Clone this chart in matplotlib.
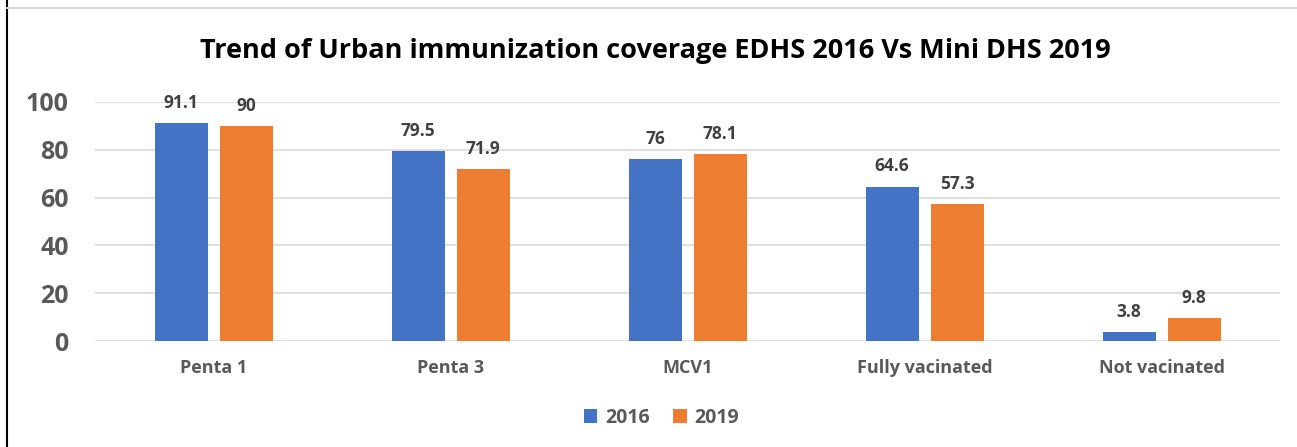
import matplotlib.pyplot as plt
import numpy as np
from matplotlib.lines import Line2D

categories = ["Penta 1", "Penta 3", "MCV1", "Fully vacinated", "Not vacinated"]
vals_2016 = [91.1, 79.5, 76, 64.6, 3.8]
vals_2019 = [90, 71.9, 78.1, 57.3, 9.8]
labels_2016 = ["91.1", "79.5", "76", "64.6", "3.8"]
labels_2019 = ["90", "71.9", "78.1", "57.3", "9.8"]

plt.rcParams["font.family"] = ["Open Sans", "DejaVu Sans"]

blue = "#4472C4"
orange = "#ED7D31"
grey = "#595959"

fig = plt.figure(figsize=(12.97, 4.47), dpi=100)
ax = fig.add_axes([0.0733, 0.237, 0.9137, 0.535])

x = np.arange(len(categories))
w = 0.224
off = 0.137
b1 = ax.bar(x - off, vals_2016, w, color=blue, label="2016", zorder=3)
b2 = ax.bar(x + off, vals_2019, w, color=orange, label="2019", zorder=3)

for bar, lab in zip(b1, labels_2016):
    ax.annotate(lab, (bar.get_x() + bar.get_width() / 2, bar.get_height()),
                xytext=(0, 8), textcoords="offset points", ha="center", va="bottom",
                fontsize=12.5, fontweight="bold", color="#404040")
for bar, lab in zip(b2, labels_2019):
    ax.annotate(lab, (bar.get_x() + bar.get_width() / 2, bar.get_height()),
                xytext=(0, 8), textcoords="offset points", ha="center", va="bottom",
                fontsize=12.5, fontweight="bold", color="#404040")

ax.set_xlim(-0.5, 4.5)
ax.set_ylim(0, 100)
ax.set_yticks([0, 20, 40, 60, 80, 100])
ax.set_xticks(x)
ax.set_xticklabels(categories, fontsize=13, fontweight="bold", color=grey)
for t in ax.get_yticklabels():
    t.set_fontsize(18)
    t.set_fontweight("bold")
    t.set_color(grey)
ax.tick_params(axis="both", length=0)
ax.tick_params(axis="x", pad=13)
ax.tick_params(axis="y", pad=19)
ax.grid(axis="y", color="#d9d9d9", linewidth=1.2, zorder=0)
for s in ax.spines.values():
    s.set_visible(False)

fig.text(0.505, 0.885, "Trend of Urban immunization coverage EDHS 2016 Vs Mini DHS 2019",
         ha="center", va="center", fontsize=19.5, fontweight="bold", color="black")

leg = fig.legend(loc="center", bbox_to_anchor=(0.51, 0.065), ncol=2, frameon=False,
                 handlelength=0.7, handleheight=0.7, handletextpad=0.4, columnspacing=1.2,
                 prop={"size": 14, "weight": "bold"})
for t in leg.get_texts():
    t.set_color(grey)

# outer frame lines
fig.add_artist(Line2D([0.0054, 0.0054], [0, 1], color="black", linewidth=1.5))
fig.add_artist(Line2D([0.0054, 1], [0.982, 0.982], color="#d9d9d9", linewidth=1.5))

fig.savefig("out.png", dpi=100)
